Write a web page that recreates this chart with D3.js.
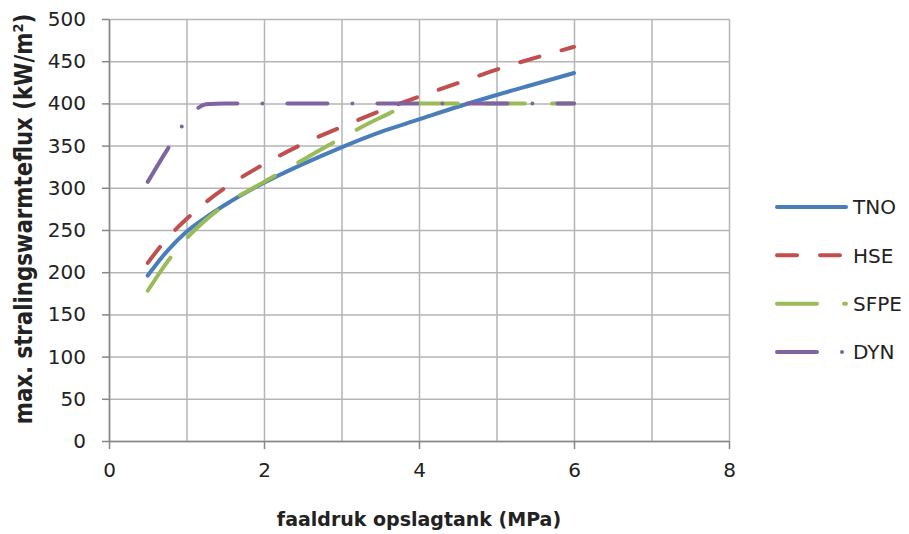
<!DOCTYPE html>
<html>
<head>
<meta charset="utf-8">
<script src="https://cdn.jsdelivr.net/npm/d3@7"></script>
<style>
  body { margin: 0; background: #fff; }
  text { font-family: 'DejaVu Sans', sans-serif; fill: #222; }
  .axis-label { font-weight: bold; }
</style>
</head>
<body>
<svg width="909" height="534"></svg>
<script>
  // data
  const pressures = [0.5, 0.75, 1, 1.25, 1.5, 2, 2.5, 3, 3.5, 4, 4.5, 5, 5.5, 6];
  const tno  = [196, 225, 248, 265, 280, 306, 328, 348, 366, 381, 396, 410, 423, 436];
  const hse  = [211, 240, 263, 283, 300, 328, 352, 372, 391, 408, 424, 440, 454, 467];
  const sfpe = [178, 212, 240, 262, 280, 307, 333, 359, 383, 400, 400, 400, 400, 400];
  const dyn  = [307, 345, 380, 399, 400, 400, 400, 400, 400, 400, 400, 400, 400, 400];

  const seriesNames = ['TNO', 'HSE', 'SFPE', 'DYN'];
  const seriesColors = ['#4a7ebb', '#c0504d', '#9bbb59', '#8064a2'];
  const seriesDash = [null, '20 23', '40 27', '40 25 0 25'];

  const xTicks = [0, 2, 4, 6, 8];
  const xGridTicks = [0, 1, 2, 3, 4, 5, 6, 7, 8];
  const yTicks = [0, 50, 100, 150, 200, 250, 300, 350, 400, 450, 500];

  const xAxisLabelText = 'faaldruk  opslagtank  (MPa)';

  const svg = d3.select('svg');
  const width = +svg.attr('width');
  const height = +svg.attr('height');

  const margin = { top: 19, right: 180, bottom: 93, left: 109 };
  const innerWidth = width - margin.left - margin.right;
  const innerHeight = height - margin.top - margin.bottom;

  const render = () => {
    const seriesValues = [tno, hse, sfpe, dyn];
    const series = seriesNames.map((name, i) => ({
      name,
      color: seriesColors[i],
      dash: seriesDash[i],
      points: pressures.map((p, j) => ({ x: p, y: seriesValues[i][j] }))
    }));

    const xScale = d3.scaleLinear().domain([0, 8]).range([0, innerWidth]);
    const yScale = d3.scaleLinear().domain([0, 500]).range([innerHeight, 0]);

    const g = svg.append('g')
      .attr('transform', `translate(${margin.left},${margin.top})`);

    //grid groups: only the lines are kept
    const styleGrid = gridG => {
      gridG.select('.domain').remove();
      gridG.selectAll('.tick text').remove();
      gridG.selectAll('line').attr('stroke', '#b5b5b5').attr('stroke-width', 1.5);
    };

    // gridlines first so everything sits on top
    g.append('g')
      .call(d3.axisBottom(xScale).tickValues(xGridTicks).tickSize(innerHeight))
      .call(styleGrid);

    g.append('g')
      .call(d3.axisRight(yScale).tickValues(yTicks).tickSize(innerWidth))
      .call(styleGrid);

    //styles an axis group the Excel way
    const styleAxis = axisG => {
      axisG.attr('font-family', null).attr('font-size', null);
      axisG.select('.domain').attr('stroke', '#868686').attr('stroke-width', 1.5);
      axisG.selectAll('.tick line').attr('stroke', '#868686').attr('stroke-width', 1.5);
      axisG.selectAll('.tick text').attr('font-size', 20).attr('fill', '#222');
    };

    // y axis
    g.append('g')
      .call(d3.axisLeft(yScale).tickValues(yTicks).tickSize(7).tickSizeOuter(0).tickPadding(16))
      .call(styleAxis);

    // x axis
    g.append('g')
      .attr('transform', `translate(0,${innerHeight})`)
      .call(d3.axisBottom(xScale).tickValues(xTicks).tickSize(8).tickSizeOuter(0).tickPadding(14))
      .call(styleAxis);

    // axis labels
    svg.append('text')
      .attr('class', 'axis-label')
      .attr('x', margin.left + innerWidth / 2)
      .attr('y', 526)
      .attr('text-anchor', 'middle')
      .attr('font-size', 19)
      .text(xAxisLabelText);

    const yLabel = svg.append('text')
      .attr('class', 'axis-label')
      .attr('transform', 'translate(32,219) scale(1.15,1) rotate(-90)')
      .attr('text-anchor', 'middle')
      .attr('font-size', 21.3);
    yLabel.append('tspan').text('max. stralingswarmteflux  (kW/m');
    yLabel.append('tspan').attr('font-size', 13).attr('dy', -8).text('2');
    yLabel.append('tspan').attr('dy', 8).text(')');

    // series lines
    const line = d3.line()
      .x(d => xScale(d.x))
      .y(d => yScale(d.y))
      .curve(d3.curveMonotoneX);

    g.selectAll('path.series').data(series)
      .enter().append('path')
        .attr('class', 'series')
        .attr('d', d => line(d.points))
        .attr('fill', 'none')
        .attr('stroke', d => d.color)
        .attr('stroke-width', 4)
        .attr('stroke-linecap', 'round')
        .attr('stroke-linejoin', 'round')
        .attr('stroke-dasharray', d => d.dash);

    // legend
    const legendY = d3.scalePoint().domain(seriesNames).range([207, 352]);
    const item = svg.append('g').selectAll('g').data(series)
      .enter().append('g')
        .attr('transform', d => `translate(0,${legendY(d.name)})`);
    item.append('line')
      .attr('x1', 777).attr('x2', 846)
      .attr('stroke', d => d.color)
      .attr('stroke-width', 4)
      .attr('stroke-linecap', 'round')
      .attr('stroke-dasharray', d => d.dash);
    item.append('text')
      .attr('x', 853)
      .attr('dy', '0.36em')
      .attr('font-size', 20)
      .text(d => d.name);
  };

  render();
</script>
</body>
</html>
